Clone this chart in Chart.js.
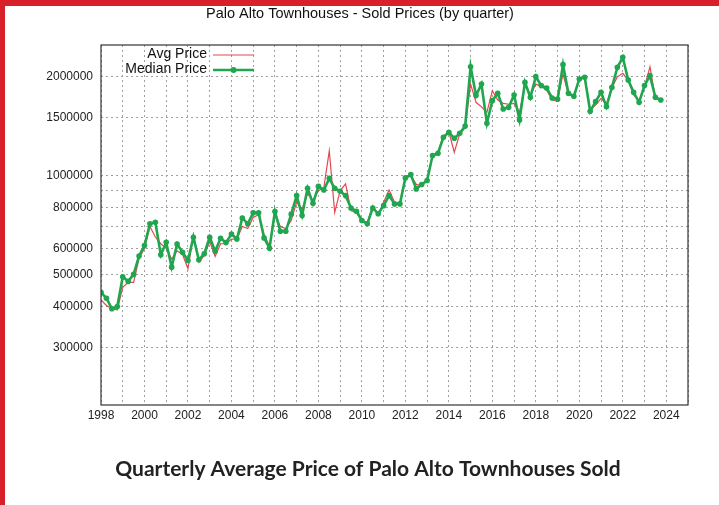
<!DOCTYPE html>
<html>
<head>
<meta charset="utf-8">
<script src="https://cdn.jsdelivr.net/npm/chart.js@4.4.1/dist/chart.umd.min.js"></script>
<style>
    html, body { margin: 0; padding: 0; background: #fff; }
    #wrap { position: relative; width: 719px; height: 505px; overflow: hidden; }
    #priceChart { position: absolute; left: 0; top: 0; }
    .bar-top { position: absolute; left: 0; top: 0; width: 719px; height: 6px; background: #d6202a; }
    .bar-left { position: absolute; left: 0; top: 0; width: 5px; height: 505px; background: #d6202a; }
</style>
</head>
<body>
<div id="wrap">
    <canvas id="priceChart" width="719" height="505"></canvas>
    <div class="bar-top"></div>
    <div class="bar-left"></div>
</div>
<script>
// Quarterly data, first quarter of 1998 to last quarter of 2023
const startYear = 1998;

// Avg Price (red line)
const avgPrice = [
    418000, 402000, 393000, 390000,
    457000, 473000, 473000, 560000,
    600000, 700000, 650000, 620000,
    600000, 557000, 590000, 575000,
    520000, 660000, 545000, 570000,
    630000, 567000, 620000, 620000,
    640000, 640000, 700000, 690000,
    746000, 760000, 660000, 610000,
    760000, 700000, 690000, 730000,
    830000, 790000, 880000, 840000,
    900000, 920000, 1190000, 773000,
    900000, 944000, 782000, 770000,
    730000, 720000, 810000, 760000,
    830000, 904000, 830000, 820000,
    980000, 1000000, 940000, 930000,
    980000, 1150000, 1180000, 1320000,
    1360000, 1178000, 1340000, 1400000,
    1900000, 1672000, 1620000, 1560000,
    1814000, 1700000, 1660000, 1650000,
    1660000, 1560000, 1880000, 1760000,
    1900000, 1870000, 1820000, 1700000,
    1690000, 2040000, 1770000, 1740000,
    1960000, 1990000, 1590000, 1640000,
    1720000, 1650000, 1850000, 2000000,
    2050000, 1950000, 1760000, 1690000,
    1860000, 2147000, 1720000, 1700000
];

// Median Price (green line with points)
const medianPrice = [
    441000, 423000, 393000, 399000,
    492000, 476000, 500000, 569000,
    612000, 713000, 721000, 574000,
    626000, 526000, 619000, 584000,
    551000, 649000, 554000, 578000,
    649000, 588000, 644000, 625000,
    664000, 641000, 743000, 713000,
    770000, 770000, 646000, 601000,
    777000, 677000, 677000, 763000,
    869000, 756000, 915000, 823000,
    928000, 904000, 981000, 915000,
    896000, 869000, 797000, 779000,
    730000, 713000, 797000, 765000,
    810000, 869000, 820000, 820000,
    984000, 1007000, 911000, 939000,
    966000, 1151000, 1170000, 1308000,
    1355000, 1299000, 1345000, 1415000,
    2147000, 1753000, 1902000, 1443000,
    1692000, 1781000, 1596000, 1614000,
    1761000, 1478000, 1923000, 1732000,
    2002000, 1880000, 1849000, 1724000,
    1710000, 2178000, 1781000, 1745000,
    1970000, 1993000, 1570000, 1680000,
    1794000, 1622000, 1857000, 2137000,
    2293000, 1955000, 1794000, 1672000,
    1880000, 2016000, 1732000, 1700000
];

// Axis ticks
const yTicks = [300000, 400000, 500000, 600000, 700000, 800000, 900000, 1000000, 1500000, 2000000];
const yUnlabeled = [700000, 900000];
const xMin = 1998;
const xMax = 2025;

const chartTitle = 'Palo Alto Townhouses - Sold Prices (by quarter)';
const chartCaption = 'Quarterly Average Price of Palo Alto Townhouses Sold';

const RED = 'rgba(222, 40, 50, 0.85)';
const GREEN = '#1fa64e';

function toPoints(values) {
    return values.map((v, i) => ({ x: startYear + i / 4, y: v }));
}

// Title, caption, border and legend (gnuplot style)
const decorPlugin = {
    id: 'decor',
    afterDraw(chart) {
        const ctx = chart.ctx;
        const a = chart.chartArea;
        ctx.save();

        // plot border
        ctx.strokeStyle = '#333';
        ctx.lineWidth = 1.2;
        ctx.strokeRect(a.left, a.top, a.right - a.left, a.bottom - a.top);

        // top title
        ctx.fillStyle = '#111';
        ctx.font = '14.5px "Liberation Sans", Arial, sans-serif';
        ctx.textAlign = 'center';
        ctx.textBaseline = 'middle';
        ctx.fillText(chartTitle, 360, 14);

        // legend
        ctx.textAlign = 'right';
        ctx.font = '14px "Liberation Sans", Arial, sans-serif';
        ctx.fillText('Avg Price', 207, 54);
        ctx.fillText('Median Price', 207, 69);
        ctx.strokeStyle = RED;
        ctx.lineWidth = 1.2;
        ctx.beginPath();
        ctx.moveTo(213, 55);
        ctx.lineTo(254, 55);
        ctx.stroke();
        ctx.strokeStyle = GREEN;
        ctx.lineWidth = 2.5;
        ctx.beginPath();
        ctx.moveTo(213, 70);
        ctx.lineTo(254, 70);
        ctx.stroke();
        ctx.fillStyle = GREEN;
        ctx.beginPath();
        ctx.arc(233.5, 70, 3, 0, Math.PI * 2);
        ctx.fill();

        // caption below chart
        ctx.fillStyle = '#222';
        ctx.textAlign = 'center';
        ctx.font = 'bold 21px Lato, "Open Sans", sans-serif';
        ctx.fillText(chartCaption, 368, 469);

        ctx.restore();
    }
};

const gridDash = {
    color: '#a0a0a0',
    lineWidth: 1,
    drawTicks: false
};

const priceChart = new Chart(document.getElementById('priceChart').getContext('2d'), {
    type: 'line',
    data: {
        datasets: [
            {
                label: 'Avg Price',
                data: toPoints(avgPrice),
                borderColor: RED,
                borderWidth: 1.2,
                pointRadius: 0,
                tension: 0,
                order: 2
            },
            {
                label: 'Median Price',
                data: toPoints(medianPrice),
                borderColor: GREEN,
                backgroundColor: GREEN,
                borderWidth: 2.6,
                pointRadius: 2.8,
                pointBorderWidth: 0,
                pointBackgroundColor: GREEN,
                tension: 0,
                order: 1
            }
        ]
    },
    options: {
        responsive: false,
        animation: false,
        layout: {
            padding: { left: 0, right: 31, top: 45, bottom: 0 }
        },
        plugins: {
            legend: { display: false },
            title: { display: false },
            tooltip: { enabled: false }
        },
        scales: {
            x: {
                type: 'linear',
                min: xMin,
                max: xMax,
                afterFit: (s) => { s.height = 100; },
                ticks: {
                    stepSize: 1,
                    autoSkip: false,
                    maxRotation: 0,
                    padding: 3,
                    color: '#222',
                    font: { family: '"Liberation Sans", Arial, sans-serif', size: 12 },
                    callback: (v) => (v % 2 === 0 ? String(v) : '')
                },
                grid: gridDash,
                border: { display: false, dash: [2, 3] }
            },
            y: {
                type: 'logarithmic',
                min: 200000,
                max: 2500000,
                afterFit: (s) => { s.width = 101; },
                afterBuildTicks: (s) => { s.ticks = yTicks.map(v => ({ value: v })); },
                ticks: {
                    padding: 8,
                    color: '#222',
                    font: { family: '"Liberation Sans", Arial, sans-serif', size: 12 },
                    callback: (v) => (yUnlabeled.includes(v) ? '' : String(v))
                },
                grid: gridDash,
                border: { display: false, dash: [2, 3] }
            }
        }
    },
    plugins: [decorPlugin]
});
</script>
</body>
</html>
